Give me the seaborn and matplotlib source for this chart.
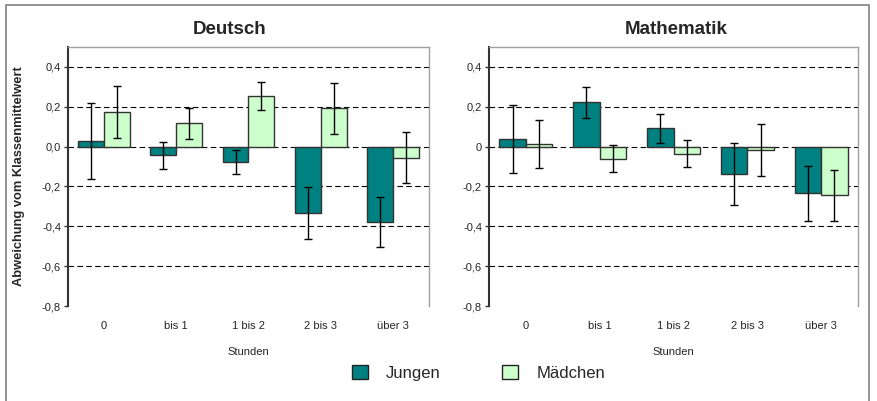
import matplotlib
matplotlib.use("Agg")
import matplotlib.pyplot as plt
import seaborn as sns
import pandas as pd
import numpy as np
from matplotlib.ticker import FuncFormatter
from matplotlib.patches import Rectangle

categories = ["0", "bis 1", "1 bis 2", "2 bis 3", "über 3"]
groups = ["Jungen", "Mädchen"]

deutsch_jungen = [0.027, -0.043, -0.078, -0.333, -0.377]
deutsch_jungen_err = [0.19, 0.067, 0.06, 0.13, 0.125]
deutsch_maedchen = [0.175, 0.118, 0.252, 0.192, -0.055]
deutsch_maedchen_err = [0.13, 0.078, 0.07, 0.128, 0.127]

mathe_jungen = [0.038, 0.222, 0.092, -0.138, -0.235]
mathe_jungen_err = [0.171, 0.076, 0.072, 0.157, 0.14]
mathe_maedchen = [0.013, -0.06, -0.035, -0.017, -0.243]
mathe_maedchen_err = [0.12, 0.069, 0.069, 0.13, 0.128]

titles = ["Deutsch", "Mathematik"]
ylabel = "Abweichung vom Klassenmittelwert"
xlabel = "Stunden"
yticks = [0.4, 0.2, 0.0, -0.2, -0.4, -0.6, -0.8]

colors = {"Jungen": "#008080", "Mädchen": "#CCFFCC"}

sns.set_theme(style="white")
plt.rcParams["font.family"] = ["Liberation Sans", "DejaVu Sans"]

fig = plt.figure(figsize=(8.78, 4.01), dpi=100)
W, H = 878, 401
ax1 = fig.add_axes([68 / W, 1 - 306 / H, (429 - 68) / W, (306 - 47) / H])
ax2 = fig.add_axes([489 / W, 1 - 306 / H, (858 - 489) / W, (306 - 47) / H])

# outer frame
fig.add_artist(Rectangle((6 / W, -0.05), (869 - 6) / W, 1 - 5 / H + 0.05,
                         transform=fig.transFigure, fill=False,
                         edgecolor="#808080", linewidth=1.2))

datasets = [
    (deutsch_jungen, deutsch_jungen_err, deutsch_maedchen, deutsch_maedchen_err),
    (mathe_jungen, mathe_jungen_err, mathe_maedchen, mathe_maedchen_err),
]
title_x = [(230 - 68) / 361, (676 - 489) / 369]

for i, (ax, (j, je, m, me)) in enumerate(zip([ax1, ax2], datasets)):
    df = pd.DataFrame({
        "Stunden": categories * 2,
        "Gruppe": ["Jungen"] * 5 + ["Mädchen"] * 5,
        "Wert": j + m,
    })
    errs = je + me
    for y in yticks:
        ax.axhline(y, color="#000000" if y > -0.8 else "#808080",
                   linestyle=(0, (5, 3)), linewidth=0.8, zorder=0)
    sns.barplot(data=df, x="Stunden", y="Wert", hue="Gruppe",
                palette=colors, hue_order=groups, order=categories,
                width=0.72, edgecolor="#333333", linewidth=1.0,
                saturation=1, errorbar=None, ax=ax, legend=False, zorder=2)
    patches = [p for p in ax.patches if p.get_width() > 0][:10]
    for p, e in zip(patches, errs):
        xc = p.get_x() + p.get_width() / 2
        yv = p.get_y() + p.get_height()
        ax.errorbar(xc, yv, yerr=e, fmt="none", ecolor="black",
                    elinewidth=1.0, capsize=3, capthick=1.0, zorder=3)
    ax.set_ylim(-0.8, 0.5)
    ax.set_xlim(-0.5, 4.5)
    ax.set_yticks(yticks)
    if i == 0:
        ax.yaxis.set_major_formatter(FuncFormatter(
            lambda v, pos: f"{v:.1f}".replace(".", ",")))
    else:
        ax.yaxis.set_major_formatter(FuncFormatter(
            lambda v, pos: "0" if abs(v) < 1e-9 else f"{v:.1f}".replace(".", ",")))
    ax.tick_params(axis="y", which="both", left=True, length=3, width=1,
                   color="#333333", labelsize=8, pad=2)
    ax.tick_params(axis="x", bottom=False, labelsize=8, pad=5)
    ax.set_title(titles[i], fontsize=13.5, fontweight="bold", pad=9, x=title_x[i])
    ax.set_xlabel(xlabel, fontsize=8, labelpad=11)
    if i == 0:
        ax.set_ylabel(ylabel, fontsize=9.3, fontweight="bold")
        ax.yaxis.set_label_coords((25 - 68) / 361, 0.5)
    else:
        ax.set_ylabel("")
    ax.spines["left"].set_color("#333333")
    ax.spines["left"].set_linewidth(1.5)
    for s in ["top", "right"]:
        ax.spines[s].set_color("#a0a0a0")
        ax.spines[s].set_linewidth(1.0)
    ax.spines["bottom"].set_visible(False)
    ax.set_facecolor("white")

handles = [Rectangle((0, 0), 1, 1, facecolor=colors[g], edgecolor="#222222", linewidth=1.0)
           for g in groups]
fig.legend(handles, groups, loc="center", bbox_to_anchor=(0.545, 1 - 373 / H),
           ncol=2, frameon=False, fontsize=12, handlelength=0.95, handleheight=0.95,
           handletextpad=1.1, columnspacing=3.7)

fig.savefig("out.png", dpi=100)
